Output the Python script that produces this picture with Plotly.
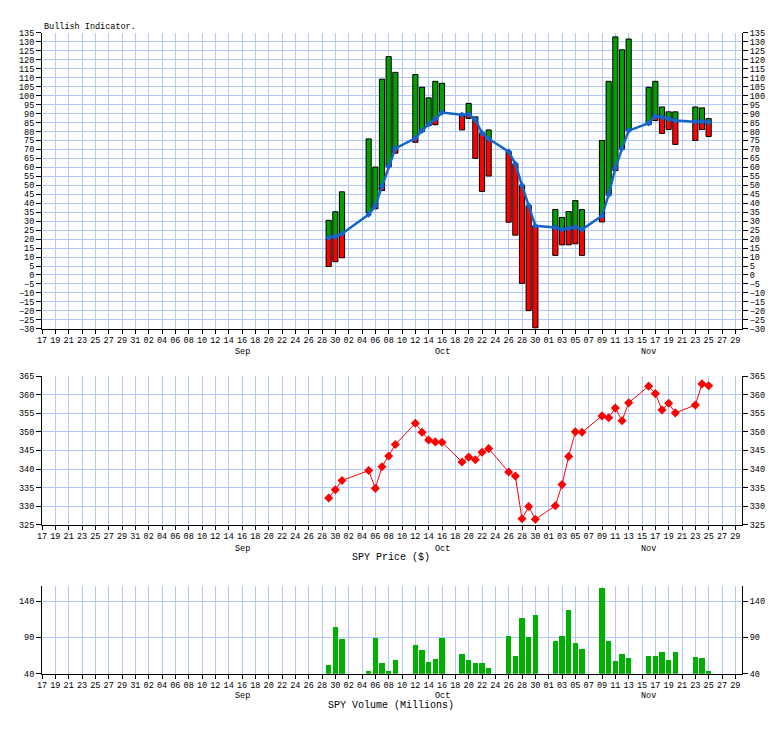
import plotly.graph_objects as go

# ---------------- data ----------------
dates = ["2020-09-29", "2020-09-30", "2020-10-01", "2020-10-05", "2020-10-06", "2020-10-07",
         "2020-10-08", "2020-10-09", "2020-10-12", "2020-10-13", "2020-10-14", "2020-10-15",
         "2020-10-16", "2020-10-19", "2020-10-20", "2020-10-21", "2020-10-22", "2020-10-23",
         "2020-10-26", "2020-10-27", "2020-10-28", "2020-10-29", "2020-10-30", "2020-11-02",
         "2020-11-03", "2020-11-04", "2020-11-05", "2020-11-06", "2020-11-09", "2020-11-10",
         "2020-11-11", "2020-11-12", "2020-11-13", "2020-11-16", "2020-11-17", "2020-11-18",
         "2020-11-19", "2020-11-20", "2020-11-23", "2020-11-24", "2020-11-25"]

bull_high = [30.5, 35.3, 46.4, 75.9, 60.2, 109.2, 121.8, 113.0, 111.8, 104.7, 98.8, 108.0,
             106.9, 88.8, 95.7, 88.2, 79.2, 80.9, 68.8, 62.0, 49.9, 38.7, 27.4, 36.5,
             32.1, 35.4, 41.5, 36.5, 75.0, 108.0, 132.8, 125.6, 131.6, 104.7, 108.0, 93.7,
             91.0, 91.0, 93.7, 93.2, 87.2]
bull_low = [4.7, 7.4, 9.6, 34.7, 36.9, 47.1, 60.2, 67.9, 74.0, 80.0, 83.3, 83.8,
            90.6, 80.9, 87.3, 65.0, 46.6, 55.2, 29.4, 22.2, -4.7, -19.9, -29.5, 10.9,
            16.8, 16.8, 17.4, 10.9, 29.6, 44.4, 58.2, 70.1, 80.5, 83.8, 86.1, 78.9,
            81.1, 72.8, 75.0, 81.1, 77.2]
bull_avg = [20.9, 21.5, 23.0, 33.7, 38.5, 49.5, 60.6, 70.6, 76.2, 80.5, 84.0, 87.0,
            90.6, 89.3, 89.7, 86.5, 79.2, 76.0, 68.8, 62.0, 50.0, 38.7, 27.4, 26.5,
            25.3, 26.0, 26.6, 25.3, 33.0, 44.8, 59.6, 70.5, 80.5, 84.6, 88.5, 88.0,
            87.0, 86.2, 85.5, 85.6, 85.2]

spy_price = [332.2, 334.4, 336.9, 339.6, 334.8, 340.6, 343.5, 346.6, 352.3, 349.9, 347.8, 347.3,
             347.2, 341.9, 343.2, 342.5, 344.5, 345.5, 339.2, 338.1, 326.6, 329.9, 326.5, 330.1,
             335.8, 343.4, 350.0, 349.9, 354.3, 353.8, 356.4, 353.0, 357.8, 362.3, 360.3, 355.9,
             357.7, 355.1, 357.2, 362.9, 362.4]

spy_volume = [51.4, 104.1, 87.7, 44.1, 89.1, 55.0, 44.1, 59.1, 79.5, 72.7, 56.4, 60.5,
              89.1, 67.3, 59.1, 55.0, 55.0, 48.2, 91.8, 64.5, 116.4, 90.5, 120.5, 85.0,
              91.8, 127.3, 82.3, 74.1, 158.6, 85.0, 57.7, 67.3, 61.8, 64.5, 64.5, 70.0,
              59.1, 70.0, 63.2, 61.8, 44.1]

bull_ticks = list(range(-30, 136, 5))
price_ticks = list(range(325, 366, 5))
volume_ticks = [40, 90, 140]
month_labels = ["Sep", "Oct", "Nov"]
month_label_dates = ["2020-09-16", "2020-10-16", "2020-11-16"]
x_range = ["2020-08-17", "2020-11-30"]

# ---------------- styling ----------------
W, H = 784, 729
ML, MR = 42, 42
PW = W - ML - MR
FONT = "Liberation Mono"
GRID = "#b0c8ff"
GREEN = "#00a000"
VGREEN = "#00b000"
RED = "#ff0000"
BLUE = "#1466cc"
DAY = 86400000
BARW = 0.78 * DAY


def py(px):  # page pixel y -> paper fraction
    return (H - px) / H


def pxx(px):  # page pixel x -> paper fraction
    return (px - ML) / PW


# green / red segments derived from high, low and the blue average line
g_base, g_len, r_base, r_len = [], [], [], []
for hi, lo, av in zip(bull_high, bull_low, bull_avg):
    b = max(lo, av)
    if hi > b:
        g_base.append(b); g_len.append(hi - b)
    else:
        g_base.append(None); g_len.append(None)
    t = min(hi, av)
    if t > lo:
        r_base.append(lo); r_len.append(t - lo)
    else:
        r_base.append(None); r_len.append(None)

fig = go.Figure()

fig.add_trace(go.Bar(x=dates, y=g_len, base=g_base, width=BARW, marker=dict(color=GREEN, line=dict(width=0)),
                     xaxis="x", yaxis="y", showlegend=False, hoverinfo="skip"))
fig.add_trace(go.Bar(x=dates, y=r_len, base=r_base, width=BARW, marker=dict(color=RED, line=dict(width=0)),
                     xaxis="x", yaxis="y", showlegend=False, hoverinfo="skip"))
fig.add_trace(go.Bar(x=dates, y=[h - l for h, l in zip(bull_high, bull_low)], base=bull_low, width=BARW,
                     marker=dict(color="rgba(0,0,0,0)", line=dict(width=1, color="black")),
                     xaxis="x", yaxis="y", showlegend=False, hoverinfo="skip"))
fig.add_trace(go.Scatter(x=dates, y=bull_avg, mode="lines+markers",
                         line=dict(color=BLUE, width=2.5),
                         marker=dict(symbol="diamond", size=5, color=BLUE),
                         xaxis="x", yaxis="y", showlegend=False, hoverinfo="skip"))

fig.add_trace(go.Scatter(x=dates, y=spy_price, mode="lines+markers",
                         line=dict(color=RED, width=1),
                         marker=dict(symbol="diamond", size=7, color=RED),
                         xaxis="x2", yaxis="y3", showlegend=False, hoverinfo="skip"))

fig.add_trace(go.Bar(x=dates, y=spy_volume, width=BARW, marker=dict(color=VGREEN, line=dict(width=0)),
                     xaxis="x3", yaxis="y5", showlegend=False, hoverinfo="skip"))

# invisible traces so the right-hand mirror axes are drawn
for ya, xa in (("y2", "x"), ("y4", "x2"), ("y6", "x3")):
    fig.add_trace(go.Scatter(x=[dates[0]], y=[None], xaxis=xa, yaxis=ya, showlegend=False,
                             hoverinfo="skip", mode="markers"))

tickfont = dict(family=FONT, size=8.5, color="black")

xcommon = dict(type="date", range=x_range, tick0="2020-08-17", dtick=2 * DAY, tickformat="%d",
               showgrid=True, gridcolor=GRID, gridwidth=1, showline=True, linecolor="black",
               linewidth=1, ticks="outside", ticklen=4, tickcolor="black", tickfont=tickfont,
               zeroline=False, fixedrange=True, ticklabelstandoff=-1)

ycommon = dict(showgrid=True, gridcolor=GRID, gridwidth=1, showline=True, linecolor="black",
               linewidth=1, ticks="outside", ticklen=5, tickcolor="black", tickfont=tickfont,
               zeroline=False, fixedrange=True, tickmode="array")

doms = {
    "bull": [py(329.3), py(29.3)],
    "price": [py(528), py(377.3)],
    "vol": [py(679), py(590)],
}

fig.update_layout(
    width=W, height=H,
    margin=dict(l=ML, r=MR, t=0, b=0),
    paper_bgcolor="white", plot_bgcolor="white",
    barmode="overlay", bargap=0,
    xaxis=dict(**xcommon, anchor="y", domain=[0, 1]),
    xaxis2=dict(**xcommon, anchor="y3", domain=[0, 1]),
    xaxis3=dict(**xcommon, anchor="y5", domain=[0, 1]),
    yaxis=dict(**ycommon, domain=doms["bull"], range=[-30, 135], tickvals=bull_ticks, anchor="x"),
    yaxis2=dict(**ycommon, overlaying="y", side="right", range=[-30, 135], tickvals=bull_ticks, anchor="x"),
    yaxis3=dict(**ycommon, domain=doms["price"], range=[325, 365], tickvals=price_ticks, anchor="x2"),
    yaxis4=dict(**ycommon, overlaying="y3", side="right", range=[325, 365], tickvals=price_ticks, anchor="x2"),
    yaxis5=dict(**ycommon, domain=doms["vol"], range=[40, 161], tickvals=volume_ticks, anchor="x3"),
    yaxis6=dict(**ycommon, overlaying="y5", side="right", range=[40, 161], tickvals=volume_ticks, anchor="x3"),
)

ann = []
ann.append(dict(text="Bullish Indicator.", x=0, y=py(23), xref="paper", yref="paper",
                xanchor="left", yanchor="middle", showarrow=False,
                font=dict(family=FONT, size=8.5, color="black")))
ann.append(dict(text="SPY Price ($)", x=pxx(391), y=py(561), xref="paper", yref="paper",
                xanchor="center", yanchor="middle", showarrow=False,
                font=dict(family=FONT, size=10, color="black")))
ann.append(dict(text="SPY Volume (Millions)", x=pxx(391), y=py(711.5), xref="paper", yref="paper",
                xanchor="center", yanchor="middle", showarrow=False,
                font=dict(family=FONT, size=10, color="black")))
for xr, ypix in (("x", 353), ("x2", 553), ("x3", 702)):
    for lab, d in zip(month_labels, month_label_dates):
        ann.append(dict(text=lab, x=d, y=py(ypix), xref=xr, yref="paper",
                        xanchor="center", yanchor="middle", showarrow=False,
                        font=dict(family=FONT, size=8.5, color="black")))
fig.update_layout(annotations=ann)

fig.write_html("out.html",
               config={"displayModeBar": False, "staticPlot": True},
               post_script="document.body.style.margin='0';document.body.style.padding='0';")
